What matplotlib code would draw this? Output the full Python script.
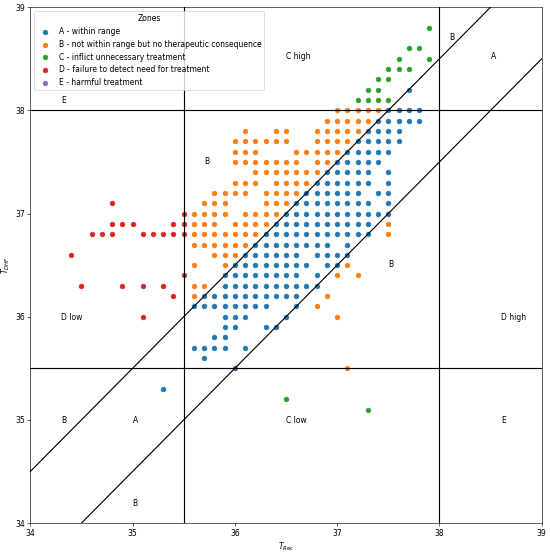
import matplotlib.pyplot as plt

# readings per zone: y (T_DHF) -> list of x (T_Rec)
zone_a = {
    38.2: [37.7],
    38.0: [37.5, 37.6, 37.7, 37.8],
    37.9: [37.4, 37.5, 37.6, 37.7, 37.8],
    37.8: [37.3, 37.4, 37.5, 37.6],
    37.7: [37.2, 37.3, 37.4, 37.5, 37.6],
    37.6: [37.1, 37.2, 37.3, 37.4, 37.5],
    37.5: [37.0, 37.1, 37.2, 37.3, 37.4],
    37.4: [36.9, 37.0, 37.1, 37.2, 37.3, 37.5],
    37.3: [36.8, 36.9, 37.0, 37.1, 37.2, 37.3, 37.5],
    37.2: [36.7, 36.8, 36.9, 37.0, 37.1, 37.2, 37.4, 37.5],
    37.1: [36.6, 36.7, 36.8, 36.9, 37.0, 37.1, 37.2, 37.3, 37.5],
    37.0: [36.5, 36.6, 36.7, 36.8, 36.9, 37.0, 37.1, 37.2, 37.3, 37.4, 37.5],
    36.9: [36.4, 36.5, 36.6, 36.7, 36.8, 36.9, 37.0, 37.1, 37.2, 37.3],
    36.8: [36.3, 36.4, 36.5, 36.6, 36.7, 36.8, 36.9, 37.0, 37.1, 37.2, 37.3],
    36.7: [36.2, 36.3, 36.4, 36.5, 36.6, 36.7, 36.8, 36.9, 37.1],
    36.6: [36.1, 36.2, 36.3, 36.4, 36.5, 36.6, 36.8, 36.9, 37.0, 37.1],
    36.5: [36.0, 36.1, 36.2, 36.3, 36.4, 36.5, 36.6, 36.7, 36.9, 37.0],
    36.4: [35.9, 36.0, 36.1, 36.2, 36.3, 36.4, 36.5, 36.6, 36.8],
    36.3: [35.9, 36.0, 36.1, 36.2, 36.3, 36.4, 36.5, 36.6, 36.7, 36.8],
    36.2: [35.7, 35.8, 35.9, 36.0, 36.1, 36.2, 36.3, 36.4, 36.5, 36.6],
    36.1: [35.6, 35.7, 35.8, 35.9, 36.0, 36.1, 36.2, 36.3, 36.6],
    36.0: [35.9, 36.0, 36.1, 36.5],
    35.9: [35.9, 36.0, 36.3, 36.4],
    35.8: [35.8, 35.9],
    35.7: [35.6, 35.7, 35.8, 35.9, 36.1],
    35.6: [35.7],
    35.5: [36.0],
    35.3: [35.3],
}

zone_b = {
    38.0: [37.0, 37.1, 37.2, 37.3, 37.4],
    37.9: [36.9, 37.0, 37.1, 37.2, 37.3],
    37.8: [36.1, 36.4, 36.5, 36.8, 36.9, 37.0, 37.1, 37.2],
    37.7: [36.0, 36.1, 36.2, 36.3, 36.4, 36.5, 36.8, 36.9, 37.0, 37.1],
    37.6: [36.0, 36.1, 36.2, 36.6, 36.7, 36.8, 36.9, 37.0],
    37.5: [36.0, 36.1, 36.2, 36.3, 36.4, 36.5, 36.6, 36.8, 36.9],
    37.4: [36.2, 36.3, 36.4, 36.5, 36.6, 36.7, 36.8],
    37.3: [36.0, 36.1, 36.2, 36.4, 36.5, 36.6, 36.7],
    37.2: [35.8, 35.9, 36.0, 36.1, 36.3, 36.4, 36.5, 36.6],
    37.1: [35.7, 35.8, 35.9, 36.3, 36.4, 36.5],
    37.0: [35.6, 35.7, 35.8, 35.9, 36.1, 36.2, 36.3, 36.4],
    36.9: [35.6, 35.7, 35.8, 36.0, 36.1, 36.2, 36.3, 37.5],
    36.8: [35.6, 35.7, 35.8, 35.9, 36.0, 36.1, 36.2, 37.5],
    36.7: [35.6, 35.7, 35.8, 35.9, 36.0, 36.1],
    36.6: [35.8, 35.9, 36.0],
    36.5: [35.6, 35.9, 37.1],
    36.4: [37.0, 37.2],
    36.3: [35.6, 35.7],
    36.2: [35.6, 36.9],
    36.1: [36.8],
    36.0: [37.0],
    35.5: [37.1],
}

zone_c = {
    38.8: [37.9],
    38.6: [37.7, 37.8],
    38.5: [37.6, 37.9],
    38.4: [37.5, 37.6, 37.7],
    38.3: [37.4, 37.5],
    38.2: [37.3, 37.4],
    38.1: [37.2, 37.3, 37.4, 37.5],
    35.2: [36.5],
    35.1: [37.3],
}

zone_d = {
    37.1: [34.8],
    37.0: [35.5],
    36.9: [34.8, 34.9, 35.0, 35.4, 35.5],
    36.8: [34.6, 34.7, 34.8, 35.1, 35.2, 35.3, 35.4, 35.5],
    36.6: [34.4],
    36.4: [35.5],
    36.3: [34.5, 34.9, 35.1, 35.3],
    36.2: [35.4],
    36.0: [35.1],
}

zone_labels = [
    "A - within range",
    "B - not within range but no therapeutic consequence",
    "C - inflict unnecessary treatment",
    "D - failure to detect need for treatment",
    "E - harmful treatment",
]

# region annotations (x, y, text)
region_text = [
    (34.3, 38.07, "E"), (36.5, 38.5, "C high"), (38.1, 38.68, "B"),
    (38.5, 38.5, "A"), (35.7, 37.48, "B"), (34.3, 35.97, "D low"),
    (37.5, 36.48, "B"), (38.6, 35.97, "D high"), (34.3, 34.97, "B"),
    (35.0, 34.97, "A"), (36.5, 34.97, "C low"), (38.6, 34.97, "E"),
    (35.0, 34.17, "B"),
]


def flatten(rows):
    xs, ys = [], []
    for y, row in rows.items():
        for x in row:
            xs.append(x)
            ys.append(y)
    return xs, ys


fig, ax = plt.subplots(figsize=(10, 10.055), dpi=55)

colors = ["tab:blue", "tab:orange", "tab:green", "tab:red", "tab:purple"]
for rows, label, c in zip([zone_a, zone_b, zone_c, zone_d, {}], zone_labels, colors):
    xs, ys = flatten(rows)
    ax.scatter(xs, ys, color=c, label=label)

# zone borders
ax.plot([34, 39], [34.5, 39.5], color="black", lw=1.5)
ax.plot([34, 39], [33.5, 38.5], color="black", lw=1.5)
ax.axhline(38, color="black", lw=1.5)
ax.axhline(35.5, color="black", lw=1.5)
ax.axvline(35.5, color="black", lw=1.5)
ax.axvline(38, color="black", lw=1.5)

for x, y, s in region_text:
    ax.text(x, y, s)

ax.set_xlim(34, 39)
ax.set_ylim(34, 39)
ax.set_xlabel("$T_{Rec}$")
ax.set_ylabel("$T_{DHF}$")
ax.legend(title="Zones", loc="upper left", scatterpoints=1)

plt.subplots_adjust(left=0.055, right=0.985, bottom=0.054, top=0.987)
plt.savefig("out.png")
